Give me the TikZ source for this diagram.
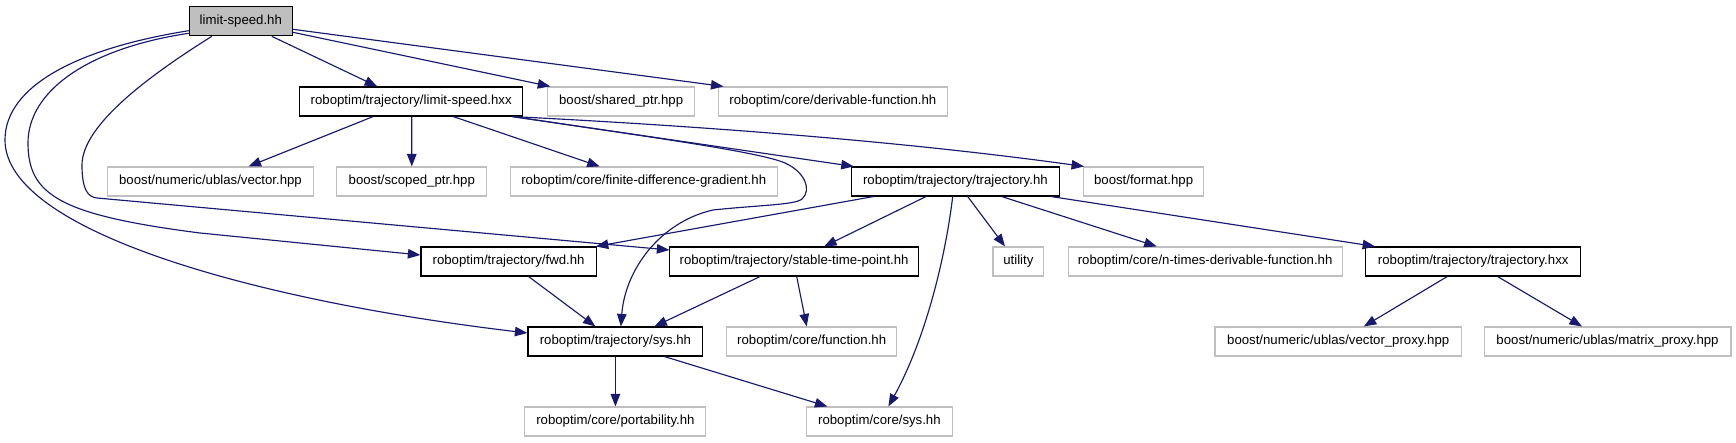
\documentclass[tikz,border=0pt]{standalone}
\usepackage{fontspec}
\setmainfont{Liberation Sans}
\usetikzlibrary{arrows.meta}
\definecolor{edgeblue}{HTML}{191970}
\definecolor{extgray}{HTML}{BFBFBF}
\tikzset{
  box/.style={draw, line width=1.1pt, minimum height=29pt, inner sep=0pt, anchor=center,
              font=\fontsize{13.2pt}{15pt}\selectfont},
  doc/.style={box, draw=black},
  ext/.style={box, draw=extgray},
  edge/.style={draw=edgeblue, line width=1.15pt, -{Triangle[length=12.5pt,width=9.5pt]}}
}
\begin{document}
\begin{tikzpicture}[x=1pt,y=-1pt]
\useasboundingbox (0,0) rectangle (1736,443);
\fill[white] (0,0) rectangle (1736,443);
% nodes
\node[doc, fill=extgray, minimum width=103pt] (lshh) at (240.8,21.3) {limit-speed.hh};
\node[doc, minimum width=223pt] (lshxx) at (411.2,101.5) {roboptim/trajectory/limit-speed.hxx};
\node[ext, minimum width=146.6pt] (sp) at (621.1,101.5) {boost/shared\_ptr.hpp};
\node[ext, minimum width=229.7pt] (df) at (832.9,101.5) {roboptim/core/derivable-function.hh};
\node[ext, minimum width=206.7pt] (vec) at (210.5,181.5) {boost/numeric/ublas/vector.hpp};
\node[ext, minimum width=150pt] (scp) at (411.8,181.5) {boost/scoped\_ptr.hpp};
\node[ext, minimum width=266.8pt] (fdg) at (643.7,181.5) {roboptim/core/finite-difference-gradient.hh};
\node[doc, minimum width=208.2pt] (trajhh) at (955.4,181.5) {roboptim/trajectory/trajectory.hh};
\node[ext, minimum width=120pt] (fmt) at (1143.6,181.5) {boost/format.hpp};
\node[doc, minimum width=175.3pt] (fwd) at (508.6,261.5) {roboptim/trajectory/fwd.hh};
\node[doc, minimum width=248.4pt] (stp) at (794.1,261.5) {roboptim/trajectory/stable-time-point.hh};
\node[ext, minimum width=50.9pt] (util) at (1018.4,261.5) {utility};
\node[ext, minimum width=274.1pt] (ntd) at (1205.1,261.5) {roboptim/core/n-times-derivable-function.hh};
\node[doc, minimum width=215pt] (trajhxx) at (1473.2,261.5) {roboptim/trajectory/trajectory.hxx};
\node[doc, minimum width=174.9pt] (sys) at (615.4,341.5) {roboptim/trajectory/sys.hh};
\node[ext, minimum width=170.4pt] (fun) at (811.7,341.5) {roboptim/core/function.hh};
\node[ext, minimum width=246.4pt] (vp) at (1338.2,341.5) {boost/numeric/ublas/vector\_proxy.hpp};
\node[ext, minimum width=246.9pt] (mp) at (1607.5,341.5) {boost/numeric/ublas/matrix\_proxy.hpp};
\node[ext, minimum width=181pt] (port) at (615.4,421.5) {roboptim/core/portability.hh};
\node[ext, minimum width=146.6pt] (csys) at (879.4,421.5) {roboptim/core/sys.hh};
\coordinate (hxo) at ([xshift=-11pt]lshxx.south east);
% edges from limit-speed.hh
\draw[edge] ([xshift=31pt]lshh.south) -- ([xshift=-34pt]lshxx.north);
\draw[edge] ([yshift=-11pt]lshh.east) -- ([xshift=3pt]sp.north west);
\draw[edge] ([yshift=-8pt]lshh.east) -- ([xshift=6pt]df.north west);
\draw[edge] ([yshift=-9.4pt]lshh.west) .. controls (80,48) and (5,85) .. (5,140)
  .. controls (5,230) and (250,300) .. ([yshift=8.5pt]sys.west);
\draw[edge] ([yshift=-12pt]lshh.west) .. controls (90,48) and (28,90) .. (28,143)
  .. controls (28,195) and (60,215) .. (200,233) -- ([yshift=6.5pt]fwd.west);
\draw[edge] ([xshift=-29pt]lshh.south) .. controls (150,75) and (82,125) .. (82,165)
  .. controls (82,190) and (88,197) .. (97,198) -- ([yshift=11.5pt]stp.west);
% edges from limit-speed.hxx
\draw[edge] ([xshift=-38pt]lshxx.south) -- ([xshift=38pt]vec.north);
\draw[edge] ([xshift=0.5pt]lshxx.south) -- (scp.north);
\draw[edge] ([xshift=42pt]lshxx.south) -- ([xshift=-44pt]fdg.north);
\draw[edge] (hxo) -- ([xshift=3pt]trajhh.north west);
\draw[edge] (hxo) .. controls (700,126) and (900,141) .. ([xshift=1pt]fmt.north west);
\draw[edge] (hxo) .. controls (650,137) and (760,152) .. (785,163)
  .. controls (805,172) and (812,190) .. (802,199)
  .. controls (795,205) and (760,205) .. (713,210)
  .. controls (660,222) and (625,270) .. ([xshift=5.5pt]sys.north);
% edges from trajectory.hh
\draw[edge] ([xshift=-82pt]trajhh.south) -- ([xshift=-1pt]fwd.north east);
\draw[edge] ([xshift=-29.4pt]trajhh.south) -- ([xshift=30pt]stp.north);
\draw[edge] ([xshift=-2.7pt]trajhh.south) .. controls (945,260) and (925,340) .. ([xshift=9pt]csys.north);
\draw[edge] ([xshift=12.3pt]trajhh.south) -- ([xshift=-13.4pt]util.north);
\draw[edge] ([xshift=46.3pt]trajhh.south) -- ([xshift=-48.4pt]ntd.north);
\draw[edge] ([xshift=-9pt]trajhh.south east) -- ([xshift=10pt]trajhxx.north west);
% lower edges
\draw[edge] ([xshift=20pt]fwd.south) -- ([xshift=-20pt]sys.north);
\draw[edge] ([xshift=-34pt]stp.south) -- ([xshift=39pt]sys.north);
\draw[edge] ([xshift=2.6pt]stp.south) -- ([xshift=-5pt]fun.north);
\draw[edge] (sys.south) -- (port.north);
\draw[edge] ([xshift=49pt]sys.south) -- ([xshift=-52pt]csys.north);
\draw[edge] ([xshift=-26pt]trajhxx.south) -- ([xshift=25.6pt]vp.north);
\draw[edge] ([xshift=24.4pt]trajhxx.south) -- ([xshift=-25.5pt]mp.north);
\end{tikzpicture}
\end{document}
